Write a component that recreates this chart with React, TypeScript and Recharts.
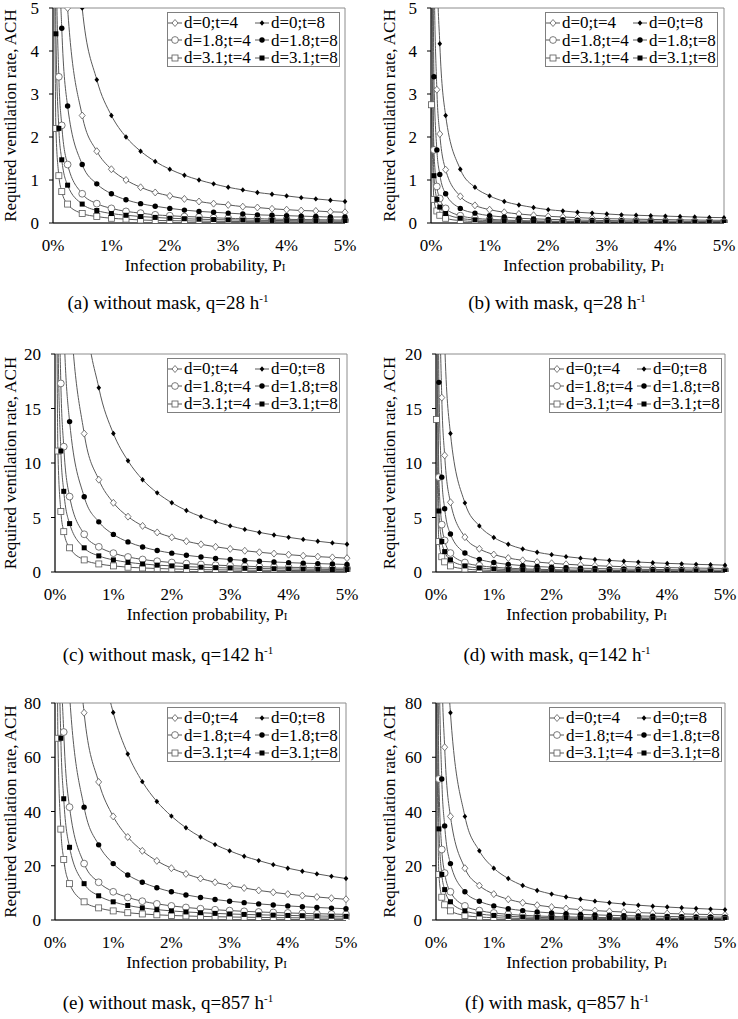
import React from "react";
import { LineChart, Line, XAxis, YAxis, ReferenceArea } from "recharts";

const FONT = '"Liberation Serif", "Times New Roman", serif';

// infection probability P_I, in %
const probability = [0.01, 0.05, 0.1, 0.15, 0.25, 0.5, 0.75, 1, 1.25, 1.5, 1.75, 2, 2.25, 2.5, 2.75, 3, 3.25, 3.5, 3.75, 4, 4.25, 4.5, 4.75, 5];
const xTicks = [0, 1, 2, 3, 4, 5];
const seriesNames = ["d=0;t=4", "d=0;t=8", "d=1.8;t=4", "d=1.8;t=8", "d=3.1;t=4", "d=3.1;t=8"];

// (a) without mask, q=28 h-1
const aD0T4 = [125, 25, 12.5, 8.33, 5, 2.5, 1.67, 1.25, 1, 0.83, 0.71, 0.63, 0.56, 0.5, 0.45, 0.42, 0.38, 0.36, 0.33, 0.31, 0.29, 0.28, 0.26, 0.25];
const aD0T8 = [250, 50, 25, 16.7, 10, 5, 3.33, 2.5, 2, 1.67, 1.43, 1.25, 1.11, 1, 0.91, 0.83, 0.77, 0.71, 0.67, 0.63, 0.59, 0.56, 0.53, 0.5];
const aD18T4 = [34, 6.8, 3.4, 2.27, 1.36, 0.68, 0.45, 0.34, 0.27, 0.23, 0.19, 0.17, 0.15, 0.14, 0.12, 0.11, 0.1, 0.1, 0.09, 0.085, 0.08, 0.076, 0.072, 0.068];
const aD18T8 = [68, 13.6, 6.8, 4.53, 2.72, 1.36, 0.91, 0.68, 0.54, 0.45, 0.39, 0.34, 0.3, 0.27, 0.25, 0.23, 0.21, 0.19, 0.18, 0.17, 0.16, 0.15, 0.14, 0.14];
const aD31T4 = [11, 2.2, 1.1, 0.73, 0.44, 0.22, 0.15, 0.11, 0.09, 0.07, 0.06, 0.055, 0.05, 0.044, 0.04, 0.037, 0.034, 0.031, 0.029, 0.028, 0.026, 0.024, 0.023, 0.022];
const aD31T8 = [22, 4.4, 2.2, 1.47, 0.88, 0.44, 0.29, 0.22, 0.18, 0.15, 0.13, 0.11, 0.1, 0.088, 0.08, 0.073, 0.068, 0.063, 0.059, 0.055, 0.052, 0.049, 0.046, 0.044];

// (b) with mask, q=28 h-1
const bD0T4 = [31, 6.2, 3.1, 2.07, 1.24, 0.62, 0.41, 0.31, 0.25, 0.21, 0.18, 0.155, 0.14, 0.124, 0.11, 0.1, 0.095, 0.089, 0.083, 0.078, 0.073, 0.069, 0.065, 0.062];
const bD0T8 = [62.5, 12.5, 6.25, 4.17, 2.5, 1.25, 0.83, 0.63, 0.5, 0.42, 0.36, 0.31, 0.28, 0.25, 0.23, 0.21, 0.19, 0.18, 0.17, 0.16, 0.15, 0.14, 0.13, 0.125];
const bD18T4 = [8.5, 1.7, 0.85, 0.57, 0.34, 0.17, 0.11, 0.085, 0.068, 0.057, 0.049, 0.043, 0.038, 0.034, 0.031, 0.028, 0.026, 0.024, 0.023, 0.021, 0.02, 0.019, 0.018, 0.017];
const bD18T8 = [17, 3.4, 1.7, 1.13, 0.68, 0.34, 0.23, 0.17, 0.14, 0.11, 0.097, 0.085, 0.076, 0.068, 0.062, 0.057, 0.052, 0.049, 0.045, 0.043, 0.04, 0.038, 0.036, 0.034];
const bD31T4 = [2.75, 0.55, 0.28, 0.18, 0.11, 0.055, 0.037, 0.028, 0.022, 0.018, 0.016, 0.014, 0.012, 0.011, 0.01, 0.009, 0.0085, 0.0079, 0.0073, 0.0069, 0.0065, 0.0061, 0.0058, 0.0055];
const bD31T8 = [5.5, 1.1, 0.55, 0.37, 0.22, 0.11, 0.073, 0.055, 0.044, 0.037, 0.031, 0.028, 0.024, 0.022, 0.02, 0.018, 0.017, 0.016, 0.015, 0.014, 0.013, 0.012, 0.012, 0.011];

// (c) without mask, q=142 h-1
const cD0T4 = [635, 127, 63.5, 42.3, 25.4, 12.7, 8.47, 6.35, 5.08, 4.23, 3.63, 3.18, 2.82, 2.54, 2.31, 2.12, 1.95, 1.81, 1.69, 1.59, 1.49, 1.41, 1.34, 1.27];
const cD0T8 = [1270, 254, 127, 84.7, 50.8, 25.4, 16.9, 12.7, 10.2, 8.47, 7.26, 6.35, 5.64, 5.08, 4.62, 4.23, 3.91, 3.63, 3.39, 3.18, 2.99, 2.82, 2.67, 2.54];
const cD18T4 = [173, 34.6, 17.3, 11.5, 6.92, 3.46, 2.31, 1.73, 1.38, 1.15, 0.99, 0.87, 0.77, 0.69, 0.63, 0.58, 0.53, 0.49, 0.46, 0.43, 0.41, 0.38, 0.36, 0.35];
const cD18T8 = [345, 69, 34.5, 23, 13.8, 6.9, 4.6, 3.45, 2.76, 2.3, 1.97, 1.73, 1.53, 1.38, 1.25, 1.15, 1.06, 0.99, 0.92, 0.86, 0.81, 0.77, 0.73, 0.69];
const cD31T4 = [55.5, 11.1, 5.55, 3.7, 2.22, 1.11, 0.74, 0.56, 0.44, 0.37, 0.32, 0.28, 0.25, 0.22, 0.2, 0.19, 0.17, 0.16, 0.15, 0.14, 0.13, 0.12, 0.12, 0.11];
const cD31T8 = [111, 22.2, 11.1, 7.4, 4.44, 2.22, 1.48, 1.11, 0.89, 0.74, 0.63, 0.56, 0.49, 0.44, 0.4, 0.37, 0.34, 0.32, 0.3, 0.28, 0.26, 0.25, 0.23, 0.22];

// (d) with mask, q=142 h-1
const dD0T4 = [160, 32, 16, 10.7, 6.4, 3.2, 2.13, 1.6, 1.28, 1.07, 0.91, 0.8, 0.71, 0.64, 0.58, 0.53, 0.49, 0.46, 0.43, 0.4, 0.38, 0.36, 0.34, 0.32];
const dD0T8 = [317, 63.4, 31.7, 21.1, 12.7, 6.34, 4.23, 3.17, 2.54, 2.11, 1.81, 1.59, 1.41, 1.27, 1.15, 1.06, 0.98, 0.91, 0.85, 0.79, 0.75, 0.7, 0.67, 0.63];
const dD18T4 = [43.5, 8.7, 4.35, 2.9, 1.74, 0.87, 0.58, 0.44, 0.35, 0.29, 0.25, 0.22, 0.19, 0.17, 0.16, 0.15, 0.13, 0.12, 0.12, 0.11, 0.1, 0.1, 0.09, 0.087];
const dD18T8 = [87, 17.4, 8.7, 5.8, 3.48, 1.74, 1.16, 0.87, 0.7, 0.58, 0.5, 0.44, 0.39, 0.35, 0.32, 0.29, 0.27, 0.25, 0.23, 0.22, 0.2, 0.19, 0.18, 0.17];
const dD31T4 = [14, 2.8, 1.4, 0.93, 0.56, 0.28, 0.19, 0.14, 0.11, 0.093, 0.08, 0.07, 0.062, 0.056, 0.051, 0.047, 0.043, 0.04, 0.037, 0.035, 0.033, 0.031, 0.029, 0.028];
const dD31T8 = [28, 5.6, 2.8, 1.87, 1.12, 0.56, 0.37, 0.28, 0.22, 0.19, 0.16, 0.14, 0.12, 0.11, 0.1, 0.093, 0.086, 0.08, 0.075, 0.07, 0.066, 0.062, 0.059, 0.056];

// (e) without mask, q=857 h-1
const eD0T4 = [3820, 764, 382, 255, 153, 76.4, 50.9, 38.2, 30.6, 25.5, 21.8, 19.1, 17, 15.3, 13.9, 12.7, 11.8, 10.9, 10.2, 9.55, 8.99, 8.49, 8.04, 7.64];
const eD0T8 = [7650, 1530, 765, 510, 306, 153, 102, 76.5, 61.2, 51, 43.7, 38.3, 34, 30.6, 27.8, 25.5, 23.5, 21.9, 20.4, 19.1, 18, 17, 16.1, 15.3];
const eD18T4 = [1040, 208, 104, 69.3, 41.6, 20.8, 13.9, 10.4, 8.32, 6.93, 5.94, 5.2, 4.62, 4.16, 3.78, 3.47, 3.2, 2.97, 2.77, 2.6, 2.45, 2.31, 2.19, 2.08];
const eD18T8 = [2080, 416, 208, 139, 83.2, 41.6, 27.7, 20.8, 16.6, 13.9, 11.9, 10.4, 9.24, 8.32, 7.56, 6.93, 6.4, 5.94, 5.55, 5.2, 4.89, 4.62, 4.38, 4.16];
const eD31T4 = [335, 67, 33.5, 22.3, 13.4, 6.7, 4.47, 3.35, 2.68, 2.23, 1.91, 1.68, 1.49, 1.34, 1.22, 1.12, 1.03, 0.96, 0.89, 0.84, 0.79, 0.74, 0.71, 0.67];
const eD31T8 = [670, 134, 67, 44.7, 26.8, 13.4, 8.93, 6.7, 5.36, 4.47, 3.83, 3.35, 2.98, 2.68, 2.44, 2.23, 2.06, 1.91, 1.79, 1.68, 1.58, 1.49, 1.41, 1.34];

// (f) with mask, q=857 h-1
const fD0T4 = [955, 191, 95.5, 63.7, 38.2, 19.1, 12.7, 9.55, 7.64, 6.37, 5.46, 4.78, 4.24, 3.82, 3.47, 3.18, 2.94, 2.73, 2.55, 2.39, 2.25, 2.12, 2.01, 1.91];
const fD0T8 = [1910, 382, 191, 127, 76.4, 38.2, 25.5, 19.1, 15.3, 12.7, 10.9, 9.55, 8.49, 7.64, 6.95, 6.37, 5.88, 5.46, 5.09, 4.78, 4.49, 4.24, 4.02, 3.82];
const fD18T4 = [260, 52, 26, 17.3, 10.4, 5.2, 3.47, 2.6, 2.08, 1.73, 1.49, 1.3, 1.16, 1.04, 0.95, 0.87, 0.8, 0.74, 0.69, 0.65, 0.61, 0.58, 0.55, 0.52];
const fD18T8 = [520, 104, 52, 34.7, 20.8, 10.4, 6.93, 5.2, 4.16, 3.47, 2.97, 2.6, 2.31, 2.08, 1.89, 1.73, 1.6, 1.49, 1.39, 1.3, 1.22, 1.16, 1.09, 1.04];
const fD31T4 = [84, 16.8, 8.4, 5.6, 3.36, 1.68, 1.12, 0.84, 0.67, 0.56, 0.48, 0.42, 0.37, 0.34, 0.31, 0.28, 0.26, 0.24, 0.22, 0.21, 0.2, 0.19, 0.18, 0.17];
const fD31T8 = [168, 33.6, 16.8, 11.2, 6.72, 3.36, 2.24, 1.68, 1.34, 1.12, 0.96, 0.84, 0.75, 0.67, 0.61, 0.56, 0.52, 0.48, 0.45, 0.42, 0.4, 0.37, 0.35, 0.34];

const yTicksA = [0, 1, 2, 3, 4, 5];
const yTicksC = [0, 5, 10, 15, 20];
const yTicksE = [0, 20, 40, 60, 80];

const captions = [
  "(a) without mask, q=28 h",
  "(b) with mask, q=28 h",
  "(c) without mask, q=142 h",
  "(d) with mask, q=142 h",
  "(e) without mask, q=857 h",
  "(f) with mask, q=857 h",
];

type Kind = "diamondOpen" | "diamondFilled" | "circleOpen" | "circleFilled" | "squareOpen" | "squareFilled";
const kinds: Kind[] = ["diamondOpen", "diamondFilled", "circleOpen", "circleFilled", "squareOpen", "squareFilled"];

const LINE = "#595959";

function Marker({ kind, cx, cy }: { kind: Kind; cx: number; cy: number }) {
  switch (kind) {
    case "diamondOpen":
      return <polygon points={`${cx},${cy - 3.5} ${cx + 3},${cy} ${cx},${cy + 3.5} ${cx - 3},${cy}`} fill="#fff" stroke={LINE} strokeWidth={0.8} />;
    case "diamondFilled":
      return <polygon points={`${cx},${cy - 2.7} ${cx + 2.3},${cy} ${cx},${cy + 2.7} ${cx - 2.3},${cy}`} fill="#000" />;
    case "circleOpen":
      return <circle cx={cx} cy={cy} r={3.4} fill="#fff" stroke={LINE} strokeWidth={0.8} />;
    case "circleFilled":
      return <circle cx={cx} cy={cy} r={2.7} fill="#000" />;
    case "squareOpen":
      return <rect x={cx - 3} y={cy - 3} width={6} height={6} fill="#fff" stroke={LINE} strokeWidth={0.8} />;
    default:
      return <rect x={cx - 2.5} y={cy - 2.5} width={5} height={5} fill="#000" />;
  }
}

function LegendBox({ left, top }: { left: number; top: number }) {
  return (
    <div
      style={{
        position: "absolute",
        left,
        top,
        width: 173,
        height: 55,
        boxSizing: "border-box",
        border: "1px solid #7f7f7f",
        background: "#fff",
        padding: "1px 0 0 0",
        display: "grid",
        gridTemplateColumns: "87px 84px",
        gridAutoRows: "17.5px",
        fontFamily: FONT,
        fontSize: 17,
        lineHeight: "17.5px",
        color: "#000",
        whiteSpace: "nowrap",
      }}
    >
      {seriesNames.map((name, k) => (
        <div key={name} style={{ display: "flex", alignItems: "center" }}>
          <svg width={16} height={14} style={{ flex: "none" }}>
            <line x1={0} y1={7} x2={14} y2={7} stroke={LINE} strokeWidth={1} />
            <Marker kind={kinds[k]} cx={7} cy={7} />
          </svg>
          <span>{name}</span>
        </div>
      ))}
    </div>
  );
}

interface Layout {
  left: number;
  plotLeft: number;
  plotRight: number;
  plotTop: number;
  plotBottom: number;
  titleX: number;
  legendLeft: number;
  captionX: number;
  captionY: number;
}

const layouts: Layout[] = [
  { left: 0, plotLeft: 53, plotRight: 345, plotTop: 8, plotBottom: 223, titleX: 10, legendLeft: 167, captionX: 168, captionY: 303 },
  { left: 369, plotLeft: 431, plotRight: 724, plotTop: 8, plotBottom: 223, titleX: 389, legendLeft: 545, captionX: 557, captionY: 303 },
  { left: 0, plotLeft: 55, plotRight: 347, plotTop: 354, plotBottom: 572, titleX: 10, legendLeft: 167, captionX: 168, captionY: 655 },
  { left: 369, plotLeft: 436, plotRight: 725, plotTop: 354, plotBottom: 572, titleX: 389, legendLeft: 549, captionX: 557, captionY: 655 },
  { left: 0, plotLeft: 55, plotRight: 346, plotTop: 703, plotBottom: 920, titleX: 10, legendLeft: 167, captionX: 168, captionY: 1003 },
  { left: 369, plotLeft: 436, plotRight: 725, plotTop: 703, plotBottom: 920, titleX: 389, legendLeft: 549, captionX: 557, captionY: 1003 },
];

const panelSeries = [
  [aD0T4, aD0T8, aD18T4, aD18T8, aD31T4, aD31T8],
  [bD0T4, bD0T8, bD18T4, bD18T8, bD31T4, bD31T8],
  [cD0T4, cD0T8, cD18T4, cD18T8, cD31T4, cD31T8],
  [dD0T4, dD0T8, dD18T4, dD18T8, dD31T4, dD31T8],
  [eD0T4, eD0T8, eD18T4, eD18T8, eD31T4, eD31T8],
  [fD0T4, fD0T8, fD18T4, fD18T8, fD31T4, fD31T8],
];
const panelTicks = [yTicksA, yTicksA, yTicksC, yTicksC, yTicksE, yTicksE];

const axisText = { fill: "#000", fontSize: 17, fontFamily: FONT };

function Panel({ lay, series, yTicks, caption }: { lay: Layout; series: number[][]; yTicks: number[]; caption: string }) {
  const width = 369;
  const chartTop = lay.plotTop - 20;
  const height = lay.plotBottom + 60 - chartTop;
  const yMax = yTicks[yTicks.length - 1];
  const data = probability.map((x, i) => {
    const row: Record<string, number> = { x };
    series.forEach((s, k) => (row[`s${k}`] = s[i]));
    return row;
  });
  const midY = (lay.plotTop + lay.plotBottom) / 2 - chartTop;
  const titleXx = (lay.plotLeft + lay.plotRight) / 2 - lay.left + 6;
  const titleXy = lay.plotBottom - chartTop + 48;

  return (
    <>
      <div style={{ position: "absolute", left: lay.left, top: chartTop }}>
        <LineChart
          width={width}
          height={height}
          data={data}
          margin={{ top: 20, right: lay.left + width - lay.plotRight, left: 0, bottom: 0 }}
        >
          <XAxis
            type="number"
            dataKey="x"
            domain={[0, 5]}
            ticks={xTicks}
            interval={0}
            tickFormatter={(v) => `${v}%`}
            tick={axisText}
            tickLine={false}
            tickSize={0}
            tickMargin={16}
            axisLine={{ stroke: "#000" }}
            height={60}
            label={() => (
              <text x={titleXx} y={titleXy} textAnchor="middle" fill="#000" fontSize={17} fontFamily={FONT}>
                Infection probability, P<tspan fontSize={11}>I</tspan>
              </text>
            )}
          />
          <YAxis
            type="number"
            domain={[0, yMax]}
            ticks={yTicks}
            interval={0}
            allowDataOverflow
            width={lay.plotLeft - lay.left}
            tick={axisText}
            tickSize={4}
            tickMargin={10}
            tickLine={{ stroke: "#000" }}
            axisLine={{ stroke: "#000" }}
            label={() => (
              <text
                x={lay.titleX - lay.left}
                y={midY}
                transform={`rotate(-90 ${lay.titleX - lay.left} ${midY})`}
                textAnchor="middle"
                dominantBaseline="central"
                fill="#000"
                fontSize={17}
                fontFamily={FONT}
              >
                Required ventilation rate, ACH
              </text>
            )}
          />
          <ReferenceArea x1={0} x2={5} y1={0} y2={yMax} fill="none" stroke="#8c8c8c" strokeWidth={1} />
          {series.map((_, k) => (
            <Line
              key={k}
              dataKey={`s${k}`}
              type="monotone"
              stroke={LINE}
              strokeWidth={1}
              isAnimationActive={false}
              activeDot={false}
              dot={(p: any) =>
                p.cx == null || p.cy == null ? (
                  <g key={`e${k}-${p.index}`} />
                ) : (
                  <g key={`d${k}-${p.index}`}>
                    <Marker kind={kinds[k]} cx={p.cx} cy={p.cy} />
                  </g>
                )
              }
            />
          ))}
        </LineChart>
      </div>
      <LegendBox left={lay.legendLeft} top={lay.plotTop + 4} />
      <div
        style={{
          position: "absolute",
          left: lay.captionX - 160,
          width: 320,
          top: lay.captionY - 12,
          height: 24,
          lineHeight: "24px",
          textAlign: "center",
          fontFamily: FONT,
          fontSize: 19,
          color: "#000",
        }}
      >
        {caption}
        <span style={{ fontSize: 11, position: "relative", top: -7 }}>-1</span>
      </div>
    </>
  );
}

export default function App() {
  return (
    <div
      style={{
        position: "absolute",
        left: 0,
        top: 0,
        width: 738,
        height: 1019,
        background: "#fff",
        overflow: "hidden",
      }}
    >
      {layouts.map((lay, i) => (
        <Panel key={i} lay={lay} series={panelSeries[i]} yTicks={panelTicks[i]} caption={captions[i]} />
      ))}
    </div>
  );
}
